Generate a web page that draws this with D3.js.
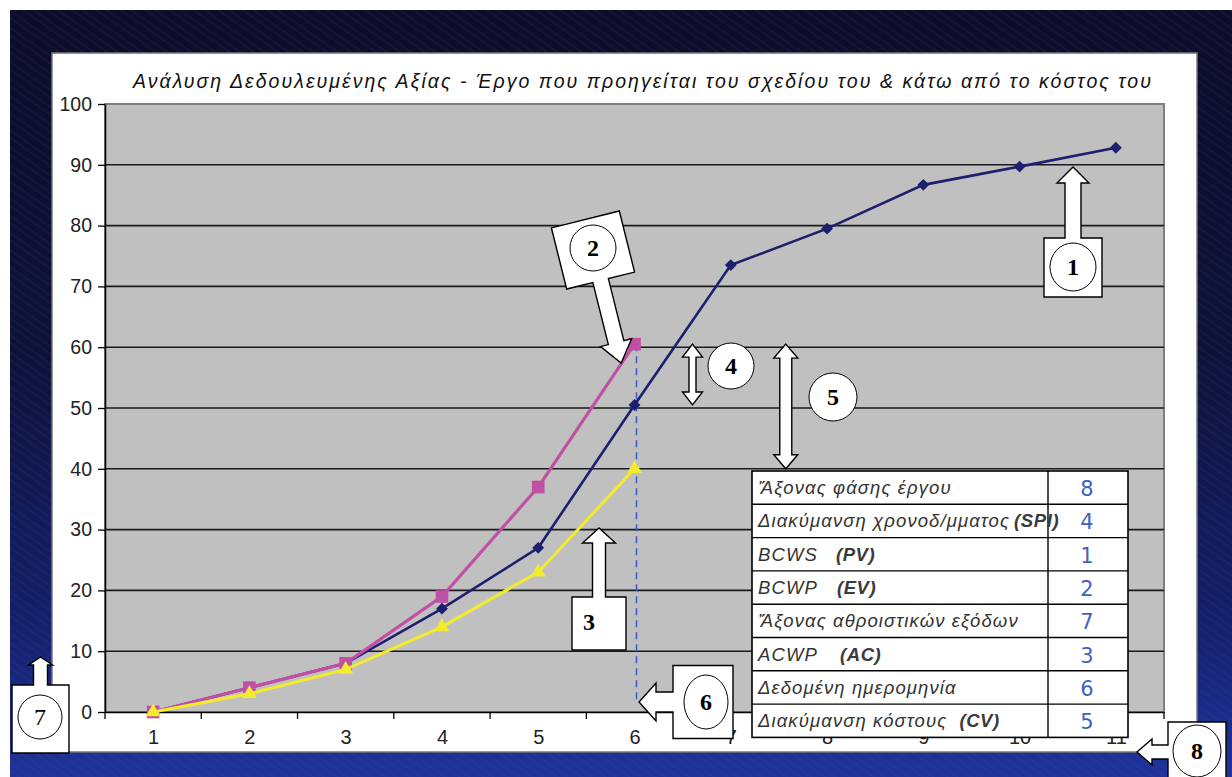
<!DOCTYPE html>
<html><head><meta charset="utf-8">
<script src="https://cdn.jsdelivr.net/npm/d3@7"></script>
<style>body{margin:0;background:#fff}svg{display:block}</style>
</head><body>
<svg id="c" width="1232" height="777"></svg>
<script>
// ---- data ----
const categories = ["1","2","3","4","5","6","7","8","9","10","11"];
const bcws = [0, 4, 8, 17, 27, 50.5, 73.5, 79.5, 86.7, 89.7, 92.8];   // PV (navy)
const bcwp = [0, 4, 8, 19, 37, 60.5];                                 // EV (magenta)
const acwp = [0, 3, 7, 14, 23, 40];                                   // AC (yellow)
const yTicks = [0,10,20,30,40,50,60,70,80,90,100];
const statusDate = "6";
const titleText = "Ανάλυση Δεδουλευμένης Αξίας - Έργο που προηγείται του σχεδίου του & κάτω από το κόστος του";
const legendLabels = ["Ἄξονας φάσης έργου","Διακύμανση χρονοδ/μματος","BCWS","BCWP","Ἄξονας αθροιστικών εξόδων","ACWP","Δεδομένη ημερομηνία","Διακύμανση κόστους"];
const legendParens = ["","(SPI)","(PV)","(EV)","","(AC)","","(CV)"];
const legendNums = ["8","4","1","2","7","3","6","5"];
const parenGaps = [0,4,18,19,0,22,0,12];

// ---- layout ----
const svg = d3.select("#c");
const W = 1232, H = 777;
const P = {l:105, r:1164, t:104, b:712};

const defs = svg.append("defs");
const bg = defs.append("linearGradient").attr("id","bg").attr("x1",0).attr("y1",0).attr("x2",0).attr("y2",1);
[[0,"#0d0d29"],[0.45,"#0f1238"],[0.8,"#16206a"],[1,"#1f3399"]].forEach(s=>bg.append("stop").attr("offset",s[0]).attr("stop-color",s[1]));
const pat = defs.append("pattern").attr("id","tex").attr("width",14).attr("height",14).attr("patternUnits","userSpaceOnUse").attr("patternTransform","rotate(35)");
pat.append("path").attr("d","M0 3 L14 3 M0 9 L14 9").attr("stroke","#3a55c8").attr("stroke-width",1.2).attr("opacity",0.35);

svg.append("rect").attr("width",W).attr("height",H).attr("fill","#fff");
svg.append("rect").attr("x",10).attr("y",10).attr("width",W-10).attr("height",H-10).attr("fill","url(#bg)");
svg.append("rect").attr("x",10).attr("y",10).attr("width",W-10).attr("height",H-10).attr("fill","url(#tex)").attr("opacity",0.5);

// white panel
svg.append("rect").attr("x",52).attr("y",53).attr("width",1145).attr("height",699)
  .attr("fill","#fff").attr("stroke","#777").attr("stroke-width",1.5);

// title
svg.append("text").attr("x",133).attr("y",88).attr("textLength",1018).attr("lengthAdjust","spacing")
  .attr("font-family","Liberation Sans, Arial, sans-serif").attr("font-style","italic").attr("font-size",19.5)
  .attr("fill","#111").text(titleText);

// scales
const x = d3.scalePoint().domain(categories).range([P.l, P.r]).padding(0.5);
const xb = d3.scaleBand().domain(categories).range([P.l, P.r]);
const y = d3.scaleLinear().domain([0,100]).range([P.b, P.t]);

// plot area
svg.append("rect").attr("x",P.l).attr("y",P.t).attr("width",P.r-P.l).attr("height",P.b-P.t)
  .attr("fill","#c0c0c0").attr("stroke","#7f7f7f").attr("stroke-width",2);
svg.append("g").selectAll("line").data(yTicks.filter(t=>t>0 && t<100)).join("line")
  .attr("x1",P.l).attr("x2",P.r).attr("y1",d=>y(d)).attr("y2",d=>y(d))
  .attr("stroke","#1a1a1a").attr("stroke-width",1.6);

// y axis
const ya = svg.append("g").attr("transform",`translate(${P.l},0)`)
  .call(d3.axisLeft(y).tickValues(yTicks).tickSize(7).tickSizeOuter(0).tickPadding(6));
ya.select(".domain").attr("stroke","#000").attr("stroke-width",1.5);
ya.selectAll(".tick line").attr("stroke","#000").attr("stroke-width",1.3);
ya.selectAll("text").attr("font-family","Liberation Sans, Arial, sans-serif").attr("font-size",19.5).attr("fill","#222");

// x axis
const xa = svg.append("g").attr("transform",`translate(0,${P.b})`)
  .call(d3.axisBottom(x).tickSize(0).tickPadding(18));
xa.select(".domain").attr("stroke","#000").attr("stroke-width",1.5);
xa.selectAll("text").attr("font-family","Liberation Sans, Arial, sans-serif").attr("font-size",20).attr("fill","#222");
svg.append("g").selectAll("line").data(categories.concat(["end"])).join("line")
  .attr("x1",(d,i)=>P.l + i*xb.step()).attr("x2",(d,i)=>P.l + i*xb.step())
  .attr("y1",P.b).attr("y2",P.b+7).attr("stroke","#000").attr("stroke-width",1.3);

// status date dashed line
svg.append("line").attr("x1",x(statusDate)+2).attr("x2",x(statusDate)+2)
  .attr("y1",y(bcwp[bcwp.length-1])).attr("y2",y(0)-8)
  .attr("stroke","#3a5bbf").attr("stroke-width",1.5).attr("stroke-dasharray","7,5");

// series
const line = d3.line().x((d,i)=>x(categories[i])).y(d=>y(d));
function series(vals, color, w, sym, size, rot){
  svg.append("path").datum(vals).attr("d",line).attr("fill","none").attr("stroke",color).attr("stroke-width",w);
  svg.append("g").selectAll("path").data(vals).join("path")
    .attr("d",d3.symbol(sym,size)())
    .attr("transform",(d,i)=>`translate(${x(categories[i])},${y(d)}) rotate(${rot})`)
    .attr("fill",color);
}
series(bcws,"#1f1f70",2.6,d3.symbolSquare,70,45);
series(bcwp,"#c04fa6",3.2,d3.symbolSquare,160,0);
series(acwp,"#f2ec2c",3,d3.symbolTriangle,95,0);

// ---- callouts ----
const ann = svg.append("g").attr("fill","#fff").attr("stroke","#000").attr("stroke-width",1.4);
function boxArrow(bw,bh,sw,sl,hw,hl){
  const t = -bh/2;
  return [[-bw/2,bh/2],[-bw/2,t],[-sw/2,t],[-sw/2,t-sl],[-hw/2,t-sl],[0,t-sl-hl],[hw/2,t-sl],[sw/2,t-sl],[sw/2,t],[bw/2,t],[bw/2,bh/2]];
}
function callout(cx,cy,rot,dims){
  ann.append("polygon").attr("points",boxArrow(...dims).map(p=>p.join(",")).join(" "))
    .attr("transform",`translate(${cx},${cy}) rotate(${rot})`);
}
function badge(cx,cy,rx,ry,label,bold){
  svg.append("ellipse").attr("cx",cx).attr("cy",cy).attr("rx",rx).attr("ry",ry)
    .attr("fill","#fff").attr("stroke","#000").attr("stroke-width",1);
  svg.append("text").attr("x",cx).attr("y",cy+8).attr("text-anchor","middle")
    .attr("font-family","Liberation Serif, Times New Roman, serif").attr("font-weight",bold?"bold":"normal")
    .attr("font-size",24).attr("fill","#000").text(label);
}
function dblArrow(xc,y0,y1,sw,hw,hl){
  const pts=[[xc,y0],[xc+hw/2,y0+hl],[xc+sw/2,y0+hl],[xc+sw/2,y1-hl],[xc+hw/2,y1-hl],[xc,y1],[xc-hw/2,y1-hl],[xc-sw/2,y1-hl],[xc-sw/2,y0+hl],[xc-hw/2,y0+hl]];
  ann.append("polygon").attr("points",pts.map(p=>p.join(",")).join(" "));
}
callout(1073,267.5,0,[58,59,16,55,32,16]);
callout(593,250,166,[70,63,16,64,32,21]);
callout(599,623.5,0,[54,53,13,54,33,15]);
callout(40.5,719,0,[57,68,14,20,24,8]);
callout(703,702,-90,[73,60,20,17,38,17]);
callout(1197,752,-90,[60,58,14,16,26,15]);
dblArrow(x(statusDate)+58, y(bcwp[5]), y(bcws[5]), 7, 20, 13);
dblArrow(x("7")+55, y(bcwp[5]), y(acwp[5]), 12, 24, 14);

badge(1073,267,23,24,"1",true);
badge(593,248,23,23,"2",true);
svg.append("text").attr("x",589).attr("y",630).attr("text-anchor","middle")
  .attr("font-family","Liberation Serif, Times New Roman, serif").attr("font-weight","bold").attr("font-size",24).text("3");
badge(731,366,23,23,"4",true);
badge(833,397,24,24,"5",true);
badge(706,702,22,27,"6",true);
badge(40,717,22,22,"7",false);
badge(1197,751,24,26,"8",true);

// ---- legend table ----
const T = {x:752, y:471, w:376, rowH:33.3, div:1048};
const tg = svg.append("g");
tg.append("rect").attr("x",T.x).attr("y",T.y).attr("width",T.w).attr("height",T.rowH*legendLabels.length)
  .attr("fill","#fff").attr("stroke","#000").attr("stroke-width",1.6);
tg.selectAll("line.r").data(legendLabels.slice(1)).join("line")
  .attr("x1",T.x).attr("x2",T.x+T.w).attr("y1",(d,i)=>T.y+(i+1)*T.rowH).attr("y2",(d,i)=>T.y+(i+1)*T.rowH)
  .attr("stroke","#000").attr("stroke-width",1.4);
tg.append("line").attr("x1",T.div).attr("x2",T.div).attr("y1",T.y).attr("y2",T.y+T.rowH*legendLabels.length)
  .attr("stroke","#000").attr("stroke-width",1.4);
legendLabels.forEach((lab,i)=>{
  const t = tg.append("text").attr("x",T.x+6).attr("y",T.y+i*T.rowH+23)
    .attr("font-family","Liberation Sans, Arial, sans-serif").attr("font-style","italic").attr("font-size",18.5)
    .attr("letter-spacing",1.1).attr("fill","#333");
  t.append("tspan").text(lab);
  if(legendParens[i]) t.append("tspan").attr("dx",parenGaps[i]).attr("font-weight","bold").attr("letter-spacing",0.6).attr("fill","#3a3a3a").text(legendParens[i]);
  tg.append("text").attr("x",T.div+39).attr("y",T.y+i*T.rowH+25).attr("text-anchor","middle")
    .attr("font-family","DejaVu Sans, sans-serif").attr("font-size",21).attr("fill","#3f62c0").text(legendNums[i]);
});
</script>
</body></html>
